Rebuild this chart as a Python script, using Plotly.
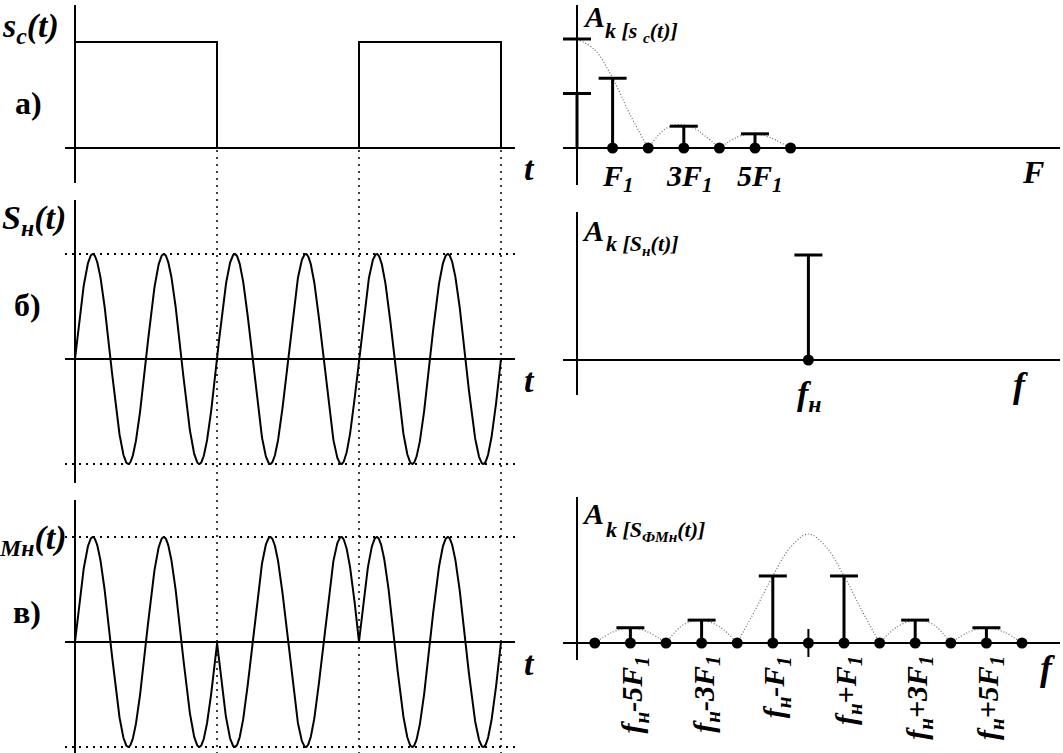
import numpy as np
import plotly.graph_objects as go

W, H = 1063, 753

# ---------------- data ----------------
# message (manipulating) signal s_c(t): one bit per interval
bits = [1, 0, 1]
bit_edges = [0, 1, 2, 3]
cycles_per_bit = 2            # carrier periods per bit interval
carrier_amp = 1.0

# spectrum of s_c(t) (frequency in units of F1)
sc_env_peak = 1.0             # envelope value at F = 0
sc_dc = 0.5                   # DC component
sc_harm_k = [1, 3, 5]
sc_harm_amp = [0.64, 0.20, 0.13]
sc_zero_k = [1, 2, 3, 4, 5, 6]
sc_env_k = [[0, 0.5, 1, 1.5, 2],
            [2, 2.5, 2.9, 3.3, 3.6, 4],
            [4, 4.5, 4.9, 5.3, 5.6, 6]]
sc_env_a = [[1.0, 0.90, 0.64, 0.30, 0.0],
            [0.0, 0.18, 0.215, 0.18, 0.11, 0.0],
            [0.0, 0.10, 0.13, 0.11, 0.07, 0.0]]

# carrier spectrum
f_n = 6.5                     # carrier frequency f_н in units of F1
fn_amp = 1.0

# PSK spectrum: offsets from f_н in units of F1
psk_side_k = [-5, -3, -1, 1, 3, 5]
psk_side_amp = [0.14, 0.21, 0.615, 0.615, 0.21, 0.14]
psk_dot_k = [-6, -5, -4, -3, -2, -1, 0, 1, 2, 3, 4, 5, 6]
psk_env_k = [[-6, -5.5, -5, -4.5, -4],
             [-4, -3.5, -3, -2.5, -2],
             [-2, -1.5, -1, -0.5, 0, 0.5, 1, 1.5, 2],
             [2, 2.5, 3, 3.5, 4],
             [4, 4.5, 5, 5.5, 6]]
psk_env_a = [[0.0, 0.10, 0.14, 0.10, 0.0],
             [0.0, 0.17, 0.21, 0.15, 0.0],
             [0.0, 0.30, 0.615, 0.88, 1.0, 0.88, 0.615, 0.30, 0.0],
             [0.0, 0.15, 0.21, 0.17, 0.0],
             [0.0, 0.10, 0.14, 0.10, 0.0]]
psk_labels = ["f<sub>н</sub>-5F<sub>1</sub>", "f<sub>н</sub>-3F<sub>1</sub>",
              "f<sub>н</sub>-F<sub>1</sub>", "f<sub>н</sub>+F<sub>1</sub>",
              "f<sub>н</sub>+3F<sub>1</sub>", "f<sub>н</sub>+5F<sub>1</sub>"]
sc_tick_labels = ["F<sub>1</sub>", "3F<sub>1</sub>", "5F<sub>1</sub>"]

# ---------------- helpers ----------------
def pxx(px):
    return px / W

def pxy(py):
    return 1 - py / H

def xr(origin, unit, lo, hi):
    return [(lo - origin) / unit, (hi - origin) / unit]

def yr(origin, unit, top, bottom):
    return [(origin - bottom) / unit, (origin - top) / unit]

def xax(x0, x1, rng, anchor):
    return dict(domain=[pxx(x0), pxx(x1)], range=rng, anchor=anchor,
                showticklabels=False, ticks='', showgrid=False, showline=False,
                zeroline=True, zerolinecolor='black', zerolinewidth=2, fixedrange=True)

def yax(top, bottom, rng, anchor, grid=False):
    d = dict(domain=[pxy(bottom), pxy(top)], range=rng, anchor=anchor,
             showticklabels=False, ticks='', showline=False,
             zeroline=True, zerolinecolor='black', zerolinewidth=2, fixedrange=True)
    if grid:
        d.update(showgrid=True, tickmode='array', tickvals=[-carrier_amp, carrier_amp],
                 gridcolor='black', gridwidth=1.5, griddash='2px,5px')
    else:
        d.update(showgrid=False)
    return d

FONT = "Liberation Serif, Times New Roman, Times, serif"

fig = go.Figure()

# ---------------- left column: time signals ----------------
fig.add_trace(go.Scatter(x=bit_edges, y=bits + [0], mode='lines', line_shape='hv',
                         line=dict(color='black', width=2), xaxis='x', yaxis='y'))

t = np.linspace(0, len(bits), 1200)
bit_idx = np.minimum((t // 1).astype(int), len(bits) - 1)
carrier = carrier_amp * np.sin(2 * np.pi * cycles_per_bit * t)
polarity = np.array([1 if b else -1 for b in bits])[bit_idx]
psk = carrier * polarity

fig.add_trace(go.Scatter(x=t, y=carrier, mode='lines', line=dict(color='black', width=2),
                         xaxis='x3', yaxis='y3'))
fig.add_trace(go.Scatter(x=t, y=psk, mode='lines', line=dict(color='black', width=2),
                         xaxis='x5', yaxis='y5'))

# ---------------- right column: spectra ----------------
def stems(ks, amps, xa, ya):
    xs, ys = [], []
    for k, a in zip(ks, amps):
        xs += [k, k, None]
        ys += [0, a, None]
    fig.add_trace(go.Scatter(x=xs, y=ys, mode='lines', line=dict(color='black', width=3),
                             xaxis=xa, yaxis=ya))
    fig.add_trace(go.Scatter(x=ks, y=amps, mode='markers',
                             marker=dict(symbol='line-ew', size=20,
                                         line=dict(color='black', width=3)),
                             xaxis=xa, yaxis=ya))

def dots(ks, xa, ya):
    fig.add_trace(go.Scatter(x=ks, y=[0] * len(ks), mode='markers',
                             marker=dict(symbol='circle', size=11, color='black'),
                             xaxis=xa, yaxis=ya))

def envelope(klist, alist, xa, ya, shift=0.0):
    xs, ys = [], []
    for ks, as_ in zip(klist, alist):
        xs += [k + shift for k in ks] + [None]
        ys += list(as_) + [None]
    fig.add_trace(go.Scatter(x=xs, y=ys, mode='lines', connectgaps=False,
                             line=dict(color='#666', width=1.2, dash='1px,2px', shape='spline'),
                             xaxis=xa, yaxis=ya))

# top right
envelope(sc_env_k, sc_env_a, 'x2', 'y2')
stems([0], [sc_dc], 'x2', 'y2')
fig.add_trace(go.Scatter(x=[0], y=[sc_env_peak], mode='markers',
                         marker=dict(symbol='line-ew', size=20, line=dict(color='black', width=3)),
                         xaxis='x2', yaxis='y2'))
stems(sc_harm_k, sc_harm_amp, 'x2', 'y2')
dots(sc_zero_k, 'x2', 'y2')

# middle right
stems([f_n], [fn_amp], 'x4', 'y4')
dots([f_n], 'x4', 'y4')

# bottom right
envelope(psk_env_k, psk_env_a, 'x6', 'y6', shift=f_n)
stems([f_n + k for k in psk_side_k], psk_side_amp, 'x6', 'y6')
dots([f_n + k for k in psk_dot_k], 'x6', 'y6')
fig.add_trace(go.Scatter(x=[f_n], y=[0], mode='markers',
                         marker=dict(symbol='line-ns', size=20, line=dict(color='black', width=2)),
                         xaxis='x6', yaxis='y6'))

# ---------------- axes ----------------
LX = xr(75, 142, 65, 515)
RX = xr(577, 35.6, 563, 1060)
fig.update_layout(
    xaxis=xax(65, 515, LX, 'y'),
    yaxis=yax(5, 183, yr(148, 106, 5, 183), 'x'),
    xaxis3=xax(65, 515, LX, 'y3'),
    yaxis3=yax(200, 483, yr(359, 105, 200, 483), 'x3', grid=True),
    xaxis5=xax(65, 515, LX, 'y5'),
    yaxis5=yax(500, 753, yr(642, 105, 500, 753), 'x5', grid=True),
    xaxis2=xax(563, 1060, RX, 'y2'),
    yaxis2=yax(5, 185, yr(148, 109, 5, 185), 'x2'),
    xaxis4=xax(563, 1060, RX, 'y4'),
    yaxis4=yax(212, 395, yr(360, 105, 212, 395), 'x4'),
    xaxis6=xax(563, 1060, RX, 'y6'),
    yaxis6=yax(497, 660, yr(643, 109, 497, 660), 'x6'),
)

# dotted bit boundaries across all time panels
for e in bit_edges[1:]:
    fig.add_shape(type='line', xref='x', yref='paper', x0=e, x1=e,
                  y0=pxy(150), y1=0, layer='below',
                  line=dict(color='black', width=1.5, dash='2px,5px'))

# ---------------- text ----------------
def ann(text, px, py, size, italic=True, xanchor='center', yanchor='middle', angle=0,
        xref='paper', x=None):
    fig.add_annotation(text=text, xref=xref, yref='paper',
                       x=(pxx(px) if x is None else x), y=pxy(py),
                       xanchor=xanchor, yanchor=yanchor, textangle=angle, showarrow=False,
                       font=dict(family=FONT, size=size, color='black', weight='bold',
                                 style='italic' if italic else 'normal'))

ann("s<sub>c</sub>(t)", 0, 28, 34, xanchor='left')
ann("а)", 28, 103, 32, italic=False)
ann("S<sub>н</sub>(t)", 0, 220, 34, xanchor='left')
ann("б)", 27, 305, 32, italic=False)
ann("S<sub>ФМн</sub>(t)", 68, 540, 34, xanchor='right')
ann("в)", 27, 612, 32, italic=False)
for py in (168, 380, 663):
    ann("t", 529, py, 34)

ann("A", 581, 17, 30, xanchor='left')
ann("k [s <sub>c</sub>(t)]", 603, 32, 22, xanchor='left')
ann("A", 580, 231, 30, xanchor='left')
ann("k [S<sub>н</sub>(t)]", 604, 245, 22, xanchor='left')
ann("A", 580, 513, 30, xanchor='left')
ann("k [S<sub>ФМн</sub>(t)]", 604, 531, 22, xanchor='left')

for k, lab in zip(sc_harm_k, sc_tick_labels):
    ann(lab, 0, 178, 30, xref='x2', x=k + 0.15)
ann("F", 1033, 172, 32)
ann("f<sub>н</sub>", 0, 396, 34, xref='x4', x=f_n + 0.03)
ann("f", 1020, 385, 36)
ann("f", 1047, 668, 36)
for k, lab in zip(psk_side_k, psk_labels):
    ann(lab, 0, 654, 30, xref='x6', x=f_n + k + 0.1, yanchor='top', angle=-90)

fig.update_layout(width=W, height=H, margin=dict(l=0, r=0, t=0, b=0),
                  paper_bgcolor='white', plot_bgcolor='rgba(0,0,0,0)', showlegend=False)

fig.write_html("out.html", config={'displayModeBar': False},
               post_script="document.body.style.margin='0px';"
                           "document.body.style.overflow='hidden';")
